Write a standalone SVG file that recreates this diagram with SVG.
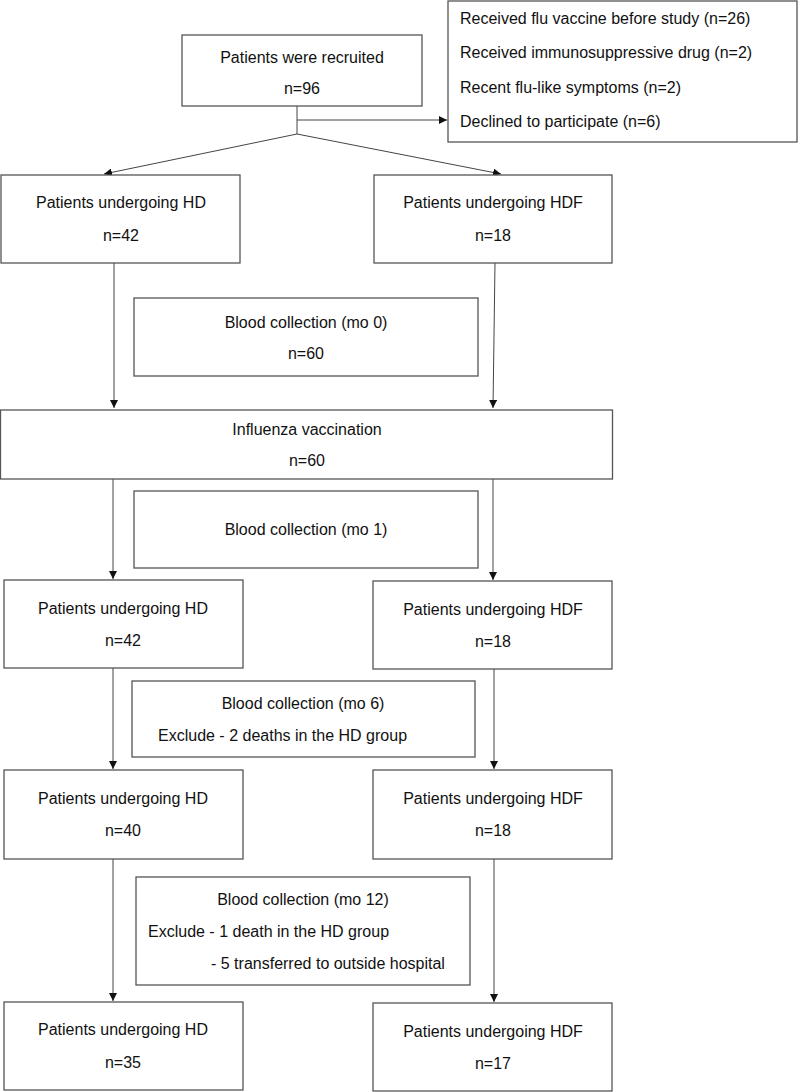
<svg xmlns="http://www.w3.org/2000/svg" width="800" height="1092" viewBox="0 0 800 1092">
<defs>
<marker id="arr" viewBox="0 0 10 10" refX="10" refY="5" markerWidth="8" markerHeight="8" markerUnits="userSpaceOnUse" orient="auto">
<path d="M0,0 L10,5 L0,10 Z" fill="#111"/>
</marker>
<style>
.box{fill:#fff;stroke:#555;stroke-width:1.3}
.t{font-family:"Liberation Sans",Arial,sans-serif;font-size:16px;fill:#111}
.c{text-anchor:middle}
.ln{fill:none;stroke:#444;stroke-width:1}
</style>
</defs>
<rect width="800" height="1092" fill="#fff"/>
<g id="connectors">
<polyline class="ln" points="297,106 297,134"/>
<line class="ln" x1="297" y1="120" x2="447" y2="120" marker-end="url(#arr)"/>
<line class="ln" x1="297" y1="134" x2="104" y2="174" marker-end="url(#arr)"/>
<line class="ln" x1="297" y1="134" x2="501" y2="174" marker-end="url(#arr)"/>
<line class="ln" x1="114" y1="263" x2="114" y2="408" marker-end="url(#arr)"/>
<line class="ln" x1="495" y1="263" x2="493" y2="408" marker-end="url(#arr)"/>
<line class="ln" x1="113" y1="479" x2="113" y2="579" marker-end="url(#arr)"/>
<line class="ln" x1="493" y1="479" x2="493" y2="580" marker-end="url(#arr)"/>
<line class="ln" x1="113" y1="668" x2="113" y2="769" marker-end="url(#arr)"/>
<line class="ln" x1="494" y1="669" x2="494" y2="769" marker-end="url(#arr)"/>
<line class="ln" x1="113" y1="859" x2="113" y2="1001" marker-end="url(#arr)"/>
<line class="ln" x1="494" y1="859" x2="494" y2="1002" marker-end="url(#arr)"/>
</g>
<g id="recruited">
<rect class="box" x="182" y="35" width="240" height="71"/>
<text class="t c" x="302" y="63">Patients were recruited</text>
<text class="t c" x="302" y="94">n=96</text>
</g>
<g id="excluded">
<rect class="box" x="448" y="1" width="349" height="141"/>
<text class="t" x="460" y="24">Received flu vaccine before study (n=26)</text>
<text class="t" x="460" y="58">Received immunosuppressive drug (n=2)</text>
<text class="t" x="460" y="93">Recent flu-like symptoms (n=2)</text>
<text class="t" x="460" y="127">Declined to participate (n=6)</text>
</g>
<g id="hd1">
<rect class="box" x="1" y="175" width="239" height="88"/>
<text class="t c" x="121" y="208">Patients undergoing HD</text>
<text class="t c" x="121" y="241">n=42</text>
</g>
<g id="hdf1">
<rect class="box" x="374" y="175" width="238" height="88"/>
<text class="t c" x="493" y="208">Patients undergoing HDF</text>
<text class="t c" x="493" y="241">n=18</text>
</g>
<g id="blood0">
<rect class="box" x="134" y="298" width="344" height="78"/>
<text class="t c" x="306" y="328">Blood collection (mo 0)</text>
<text class="t c" x="306" y="359">n=60</text>
</g>
<g id="vaccination">
<rect class="box" x="0.5" y="410" width="612" height="69"/>
<text class="t c" x="307" y="435">Influenza vaccination</text>
<text class="t c" x="307" y="466">n=60</text>
</g>
<g id="blood1">
<rect class="box" x="134" y="491" width="344" height="77"/>
<text class="t c" x="306" y="535">Blood collection (mo 1)</text>
</g>
<g id="hd2">
<rect class="box" x="4" y="580" width="239" height="88"/>
<text class="t c" x="123" y="614">Patients undergoing HD</text>
<text class="t c" x="123" y="646">n=42</text>
</g>
<g id="hdf2">
<rect class="box" x="373" y="581" width="239" height="88"/>
<text class="t c" x="493" y="615">Patients undergoing HDF</text>
<text class="t c" x="493" y="647">n=18</text>
</g>
<g id="blood6">
<rect class="box" x="132" y="681" width="343" height="76"/>
<text class="t c" x="303" y="709">Blood collection (mo 6)</text>
<text class="t" x="158" y="741">Exclude - 2 deaths in the HD group</text>
</g>
<g id="hd3">
<rect class="box" x="4" y="770" width="239" height="89"/>
<text class="t c" x="123" y="804">Patients undergoing HD</text>
<text class="t c" x="123" y="836">n=40</text>
</g>
<g id="hdf3">
<rect class="box" x="373" y="770" width="239" height="89"/>
<text class="t c" x="493" y="804">Patients undergoing HDF</text>
<text class="t c" x="493" y="836">n=18</text>
</g>
<g id="blood12">
<rect class="box" x="136" y="877" width="334" height="108"/>
<text class="t c" x="303" y="905">Blood collection (mo 12)</text>
<text class="t" x="148" y="937">Exclude - 1 death in the HD group</text>
<text class="t" x="211" y="969">- 5 transferred to outside hospital</text>
</g>
<g id="hd4">
<rect class="box" x="4" y="1002" width="239" height="88"/>
<text class="t c" x="123" y="1035">Patients undergoing HD</text>
<text class="t c" x="123" y="1068">n=35</text>
</g>
<g id="hdf4">
<rect class="box" x="373" y="1003" width="239" height="88"/>
<text class="t c" x="493" y="1037">Patients undergoing HDF</text>
<text class="t c" x="493" y="1069">n=17</text>
</g>
</svg>
